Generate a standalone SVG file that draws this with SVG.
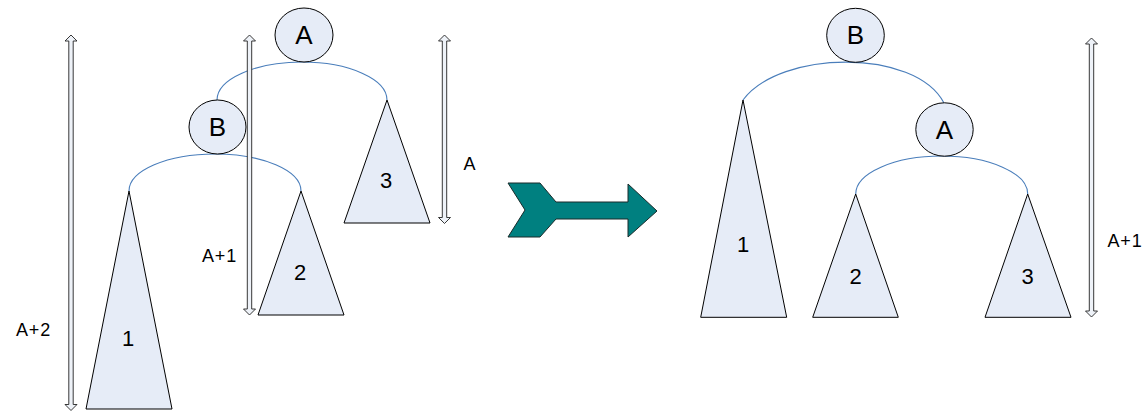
<svg xmlns="http://www.w3.org/2000/svg" width="1148" height="412" viewBox="0 0 1148 412">
<style>
.node{fill:#e6ecf7;stroke:#000;stroke-width:1}
.tri{fill:#e6ecf7;stroke:#000;stroke-width:1;stroke-linejoin:miter}
.edge{fill:none;stroke:#4a7ebb;stroke-width:1.1}
.dim{fill:#eef2f8;stroke:#222;stroke-width:0.9}
.lbl{font-family:"Liberation Sans",Arial,sans-serif;fill:#000;text-anchor:middle}
.big{font-size:26px}
.num{font-size:22px}
.dl{font-size:18px;letter-spacing:0.8px}
</style>
<rect width="1148" height="412" fill="#fff"/>
<g id="connectors">
<path class="edge" d="M217,100 A85,38 0 0 1 387,100"/>
<path class="edge" d="M129,191 A86,37 0 0 1 301,191"/>
<path class="edge" d="M743,100 C780,50 915,48 944,103"/>
<path class="edge" d="M855.7,194 A86,38 0 0 1 1027.7,194"/>
</g>
<g id="left-dims">
<polygon class="dim" points="71,35 77,41 73.2,41 73.2,404.5 77,404.5 71,410.5 65,404.5 68.8,404.5 68.8,41 65,41"/>
<polygon class="dim" points="249.5,35 255.5,41 251.7,41 251.7,309 255.5,309 249.5,315 243.5,309 247.3,309 247.3,41 243.5,41"/>
<polygon class="dim" points="444.5,35 450.5,41 446.7,41 446.7,217.5 450.5,217.5 444.5,223.5 438.5,217.5 442.3,217.5 442.3,41 438.5,41"/>
<text class="lbl dl" x="33.5" y="336">A+2</text>
<text class="lbl dl" x="219.5" y="261.7">A+1</text>
<text class="lbl dl" x="470" y="169.5">A</text>
</g>
<g id="left-tree1">
<polygon class="tri" points="129,191 172,409 86,409"/>
<text class="lbl num" x="128" y="345.5">1</text>
</g>
<g id="left-tree2">
<polygon class="tri" points="301,191 344,315 258,315"/>
<text class="lbl num" x="300" y="280">2</text>
</g>
<g id="left-tree3">
<polygon class="tri" points="387,100 430,223 344,223"/>
<text class="lbl num" x="386" y="187.5">3</text>
</g>
<g id="left-nodeA">
<ellipse class="node" cx="304" cy="35" rx="29" ry="27"/>
<text class="lbl big" x="304" y="43.8">A</text>
</g>
<g id="left-nodeB">
<ellipse class="node" cx="217.5" cy="127" rx="28.5" ry="27"/>
<text class="lbl big" x="217.5" y="135.8">B</text>
</g>
<g id="transform-arrow">
<polygon points="508,183 540,183 556,202 628,202 628,184 657,211 628,237 628,219 556,219 540,237 508,237 525,210" fill="#008080" stroke="#1a2a2a" stroke-width="1"/>
</g>
<g id="right-tree1">
<polygon class="tri" points="743,100 786.7,317.3 700.7,317.3"/>
<text class="lbl num" x="743" y="252.3">1</text>
</g>
<g id="right-tree2">
<polygon class="tri" points="855.7,194 898.3,317.3 812.7,317.3"/>
<text class="lbl num" x="855.5" y="284">2</text>
</g>
<g id="right-tree3">
<polygon class="tri" points="1027.7,194 1071,317.3 985,317.3"/>
<text class="lbl num" x="1027.5" y="283.5">3</text>
</g>
<g id="right-nodeB">
<ellipse class="node" cx="855.5" cy="35.3" rx="28.8" ry="27"/>
<text class="lbl big" x="855.5" y="44.3">B</text>
</g>
<g id="right-nodeA">
<ellipse class="node" cx="944.5" cy="129.5" rx="28.7" ry="26.7"/>
<text class="lbl big" x="944.5" y="138.5">A</text>
</g>
<g id="right-dims">
<polygon class="dim" points="1091.5,38 1097.5,44 1093.7,44 1093.7,311 1097.5,311 1091.5,317 1085.5,311 1089.3,311 1089.3,44 1085.5,44"/>
<text class="lbl dl" x="1125" y="246.8">A+1</text>
</g>
</svg>
